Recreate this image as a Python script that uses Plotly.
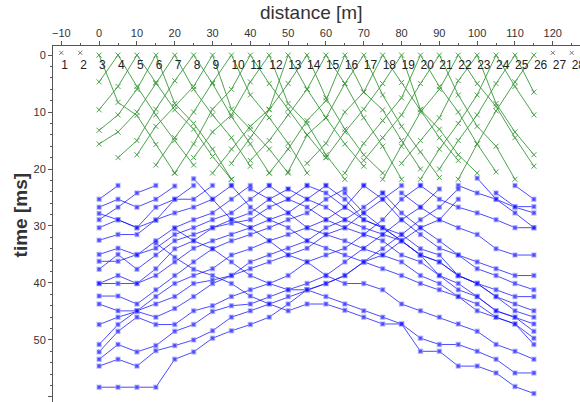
import plotly.graph_objects as go

# ---------------- data ----------------
geophone_labels = [str(i) for i in range(1, 29)]
geophone_pos = [-10, -5, 0, 5, 10, 15, 20, 25, 30, 35, 40, 45, 50, 55, 60, 65, 70, 75,
                80, 85, 90, 95, 100, 105, 110, 115, 120, 125]

# green: direct-wave picks, shots at 0..115 m, offsets of 5 m to the left / right
green_shots = [0, 5, 10, 15, 20, 25, 30, 35, 40, 45, 50, 55, 60, 65, 70, 75, 80, 85,
               90, 95, 100, 105, 110, 115]
green_left = [
    [], [4.7], [5.5, 9.6], [6.0, 10.5, 13.2], [5.0, 10.0, 13.5, 15.6],
    [4.5, 9.5, 15.0, 18.0], [5.5, 9.0, 12.5, 17.5], [4.8, 10.0, 14.5, 19.3],
    [6.0, 9.5, 15.6, 20.7], [4.7, 10.5, 13.5, 18.0], [9.5, 12.5, 16.5, 20.7],
    [5.0, 9.6, 14.5, 19.0], [6.0, 10.5, 15.0, 18.5], [8.0, 11.5, 16.5, 20.7],
    [5.0, 11.0, 14.0, 20.5], [6.5, 10.0, 15.5, 19.0], [5.0, 9.5, 13.5, 18.0],
    [7.5, 11.5, 15.5, 20.7], [5.0, 10.5, 14.5, 18.5], [6.0, 10.0, 16.0, 21.8],
    [4.5, 11.0, 15.0, 19.0], [7.0, 12.0, 16.5, 21.8], [5.0, 10.5, 15.0, 20.0],
    [4.7, 9.8, 15.6, 21.8]]
green_right = [
    [8.3, 10.6, 15.7, 20.7], [5.5, 10.5, 15.0, 19.3], [4.8, 9.6, 13.0, 17.8, 21.8],
    [8.5, 12.0, 16.5, 21.8], [6.0, 10.5, 14.5, 19.5], [5.0, 10.8, 15.6, 20.7],
    [9.5, 13.0, 16.5, 20.7], [7.0, 11.0, 15.5, 20.7], [5.0, 9.5, 14.0, 18.0],
    [8.5, 12.0, 17.5, 21.8], [6.0, 11.0, 15.6, 19.5], [7.5, 13.0, 17.5, 20.7],
    [5.0, 11.0, 16.0, 21.8], [6.5, 9.6, 15.0, 20.0], [7.0, 12.5, 17.0, 21.5],
    [4.8, 9.5, 14.5, 18.5], [9.6, 13.0, 17.5, 20.7], [5.5, 10.0, 15.6, 20.5],
    [7.0, 12.5, 16.0, 21.8], [5.0, 9.0, 14.5, 19.5], [8.5, 13.5, 17.5],
    [5.5, 10.5], [6.5], []]

# blue: refracted picks. forward branches (first receiver position, times to the right)
blue_fwd_start = [15, 20, 25, 35, 40, 45, 50, 55, 60, 65, 70, 75, 80, 85, 95, 100, 105, 110]
blue_fwd_times = [
    [33.0, 35.5, 37.6, 38.7, 40.1, 42.3, 43.7, 44.9, 43.7, 43.7, 44.8, 46.0, 47.2, 47.2,
     52.0, 52.0, 54.6, 54.6, 55.8, 58.2, 59.4],
    [30.5, 32.6, 34.0, 36.3, 38.7, 40.1, 41.2, 41.2, 42.4, 43.7, 44.9, 46.0, 47.2, 49.7,
     50.8, 50.8, 52.0, 53.4, 55.8, 55.8],
    [21.7, 25.3, 28.9, 30.3, 32.6, 35.1, 36.3, 38.7, 40.1, 40.1, 41.2, 43.7, 44.9, 46.0,
     47.2, 48.5, 50.8, 52.0, 53.4],
    [22.9, 26.7, 28.9, 30.3, 32.6, 33.9, 35.1, 36.3, 37.5, 38.7, 40.1, 41.2, 42.4, 44.9,
     46.0, 47.2, 50.8],
    [23.5, 25.3, 27.7, 30.3, 31.5, 32.6, 34.0, 35.1, 36.3, 38.7, 40.1, 42.4, 43.7, 46.0,
     47.2, 49.7],
    [22.9, 25.3, 26.7, 28.9, 30.3, 31.5, 32.6, 35.1, 36.3, 38.7, 41.2, 42.4, 44.9, 46.0, 48.5],
    [23.5, 25.3, 26.7, 28.9, 30.3, 31.5, 32.6, 35.1, 38.7, 40.1, 42.4, 44.9, 46.0, 47.2],
    [22.9, 24.2, 26.7, 28.9, 30.3, 32.6, 35.1, 36.3, 38.7, 40.1, 42.4, 44.9, 46.0],
    [22.9, 25.3, 28.9, 30.3, 31.5, 34.0, 35.1, 38.7, 40.1, 42.4, 43.7, 44.9],
    [24.2, 27.7, 30.3, 32.6, 35.1, 36.3, 38.7, 40.1, 41.2, 42.4, 42.4],
    [22.9, 25.3, 28.9, 31.5, 33.9, 35.1, 37.5, 38.7, 40.1, 41.2],
    [24.2, 27.7, 30.3, 32.6, 35.1, 36.3, 37.5, 38.7, 38.7],
    [24.2, 26.7, 28.9, 30.3, 31.5, 34.0, 35.1, 35.1],
    [22.9, 25.3, 26.7, 27.7, 28.9, 30.3, 30.3],
    [22.9, 24.2, 25.3, 26.7, 27.7],
    [21.6, 25.3, 27.7, 30.3],
    [24.2, 26.6, 26.6],
    [22.9, 25.3]]

# backward branches: times from 0 m to the right, up to the last receiver
blue_bwd_times = [
    [58.3, 58.3, 58.3, 58.3, 53.4, 52.1, 49.7, 48.4, 47.3, 46.0, 43.7, 41.2, 40.1, 38.7,
     36.3, 35.1, 32.6, 30.3, 28.9, 25.3],
    [54.6, 53.4, 54.6, 51.9, 51.0, 50.0, 48.4, 46.0, 44.9, 43.7, 42.4, 41.2, 40.1, 38.7,
     36.3, 34.0, 31.5, 28.9, 26.7, 23.5],
    [53.4, 50.8, 52.1, 51.0, 48.5, 47.3, 45.0, 44.0, 43.7, 42.4, 41.2, 40.1, 38.7, 36.3,
     33.9, 31.5, 28.9, 26.7, 23.5],
    [52.1, 48.5, 46.0, 47.3, 47.3, 44.9, 44.0, 42.4, 41.2, 40.1, 38.7, 36.3, 35.1, 33.9,
     31.5, 28.9, 25.3, 22.9],
    [50.8, 47.3, 44.9, 43.7, 42.4, 40.1, 39.5, 38.7, 37.5, 36.3, 35.1, 33.9, 31.5, 30.3,
     27.7, 25.3, 22.9],
    [47.3, 46.0, 45.0, 46.0, 44.5, 42.4, 40.1, 38.7, 36.3, 35.1, 33.9, 32.6, 30.3, 28.9,
     26.7, 24.2],
    [43.7, 44.9, 44.9, 42.4, 40.1, 38.7, 37.5, 35.1, 34.0, 32.6, 31.5, 30.3, 28.9, 26.7, 22.9],
    [42.3, 42.3, 43.7, 41.2, 38.7, 36.3, 34.0, 32.6, 31.5, 30.3, 28.9, 27.7, 25.3, 23.5],
    [40.1, 38.7, 40.1, 38.7, 36.3, 33.9, 32.6, 31.5, 30.3, 28.9, 27.7, 25.3, 22.9],
    [40.1, 40.1, 40.1, 37.5, 34.0, 32.6, 30.3, 29.5, 28.9, 26.7, 25.3, 22.9],
    [37.6, 35.0, 37.6, 35.1, 32.6, 31.5, 30.3, 28.9, 27.7, 25.3, 23.5],
    [36.2, 36.2, 35.0, 33.9, 31.5, 30.3, 28.9, 27.7, 25.3, 22.9],
    [35.0, 33.9, 35.1, 32.6, 30.3, 28.9, 27.7, 25.3, 22.9],
    [32.5, 31.5, 31.5, 28.9, 27.7, 26.7, 25.3, 22.9],
    [30.3, 28.9, 30.3, 29.0, 25.3, 25.3, 22.9],
    [27.8, 28.9, 30.3, 26.7, 25.3, 22.9],
    [26.7, 25.3, 26.7, 25.3, 23.0],
    [28.9, 26.7, 24.2, 22.9],
    [25.3, 22.9]]

GREEN = "#3c9a3c"
BLUE = "#1010ff"
BLUE_HALO = "rgba(130,130,255,0.55)"

fig = go.Figure()

# green direct-wave picks
for xs, lt, rt in zip(green_shots, green_left, green_right):
    xl = [xs - 5 * (i + 1) for i in range(len(lt))][::-1]
    xr = [xs + 5 * (i + 1) for i in range(len(rt))]
    xv = xl + [xs] + xr
    yv = lt[::-1] + [0] + rt
    fig.add_trace(go.Scatter(
        x=xv, y=yv, mode="lines+markers",
        line=dict(color=GREEN, width=1),
        marker=dict(symbol="x-thin", size=5, line=dict(color=GREEN, width=1)),
        opacity=0.9, hoverinfo="skip", showlegend=False))

# blue refracted picks
blue_marker = dict(symbol="square", size=4, color=BLUE,
                   line=dict(color=BLUE_HALO, width=1.5))
for x0, tv in zip(blue_fwd_start, blue_fwd_times):
    xv = [x0 + 5 * i for i in range(len(tv))]
    fig.add_trace(go.Scatter(
        x=xv, y=tv, mode="lines+markers",
        line=dict(color=BLUE, width=1), marker=blue_marker,
        opacity=0.75, hoverinfo="skip", showlegend=False))
for tv in blue_bwd_times:
    xv = [5 * i for i in range(len(tv))]
    fig.add_trace(go.Scatter(
        x=xv, y=tv, mode="lines+markers",
        line=dict(color=BLUE, width=1), marker=blue_marker,
        opacity=0.75, hoverinfo="skip", showlegend=False))

# off-spread shot marks
off = [0, 1, 26, 27]
fig.add_trace(go.Scatter(
    x=[geophone_pos[i] for i in off], y=[-0.4] * len(off), mode="markers",
    marker=dict(symbol="x-thin", size=4, line=dict(color="#777777", width=1)),
    hoverinfo="skip", showlegend=False))

# geophone numbers
fig.add_trace(go.Scatter(
    x=geophone_pos, y=[1.9] * len(geophone_pos), mode="text",
    text=geophone_labels, textposition="middle right",
    textfont=dict(family="Liberation Sans, Arial", size=12, color="#222222"),
    hoverinfo="skip", showlegend=False, cliponaxis=False))

fig.update_layout(
    width=580, height=402,
    margin=dict(l=53, r=0, t=46, b=0),
    paper_bgcolor="white", plot_bgcolor="white",
    font=dict(family="Liberation Sans, Arial", size=11, color="#333333"),
    xaxis=dict(
        side="top", range=[-12.2, 127.2], tickmode="linear", tick0=0, dtick=10,
        showgrid=False, zeroline=False, showline=True, linecolor="#555555",
        linewidth=1, ticks="outside", ticklen=4, tickcolor="#555555",
        minor=dict(ticks="outside", dtick=5, ticklen=2, tickcolor="#555555"),
        tickfont=dict(size=11, color="#333333")),
    yaxis=dict(
        range=[60.9, -1.6], tickmode="linear", tick0=0, dtick=10,
        showgrid=False, zeroline=False, showline=True, linecolor="#555555",
        linewidth=1, ticks="outside", ticklen=4, tickcolor="#555555",
        minor=dict(ticks="outside", dtick=2, ticklen=2, tickcolor="#555555"),
        tickfont=dict(size=11, color="#333333")),
    annotations=[
        dict(text="distance [m]", xref="paper", yref="paper", x=0.49, y=1.093,
             xanchor="center", yanchor="middle", showarrow=False,
             font=dict(size=19, color="#333333")),
        dict(text="<b>time [ms]</b>", xref="paper", yref="paper", x=-0.062, y=0.525,
             xanchor="center", yanchor="middle", showarrow=False, textangle=-90,
             font=dict(size=19, color="#333333")),
    ],
)

fig.write_html("out.html")
